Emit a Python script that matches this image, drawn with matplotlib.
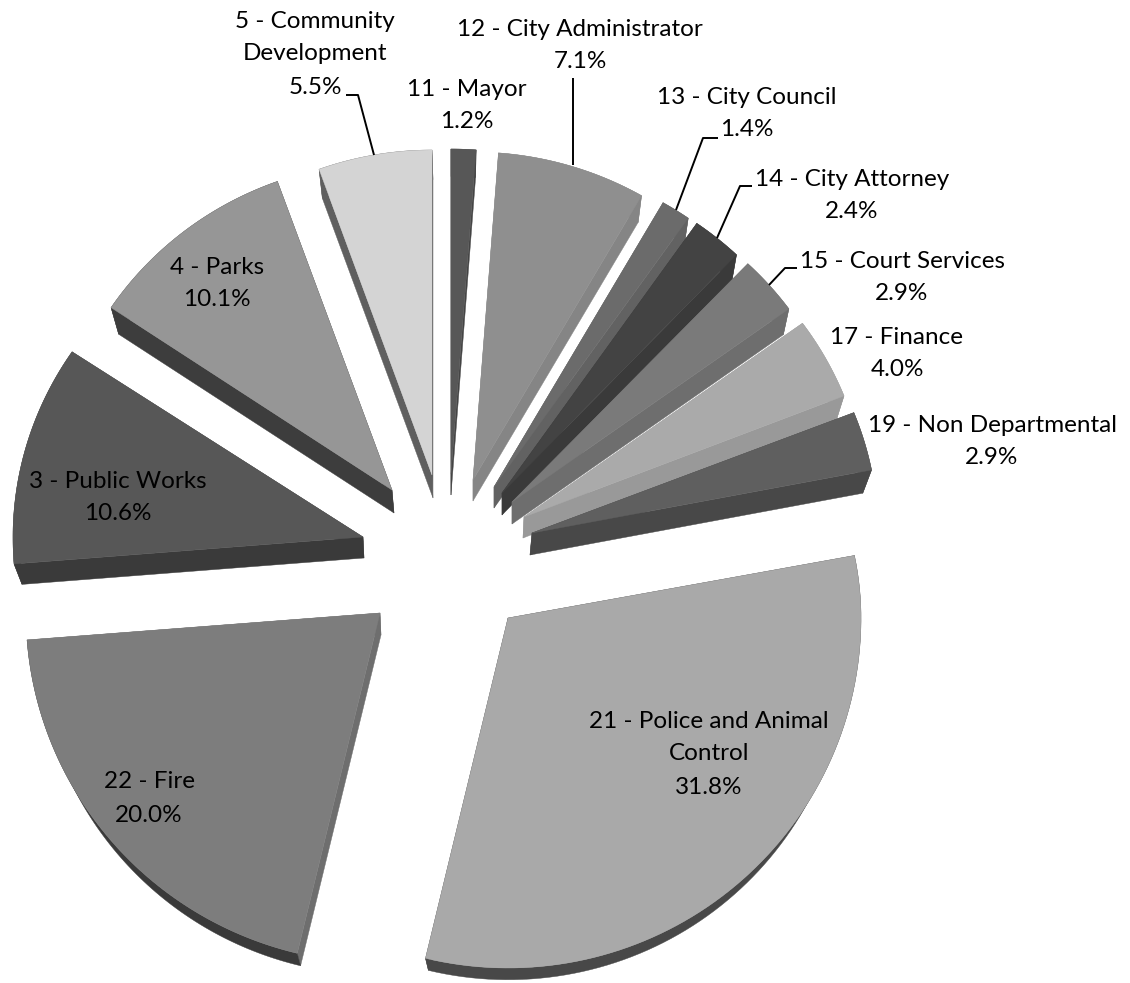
import numpy as np
import matplotlib
matplotlib.use("Agg")
import matplotlib.pyplot as plt
from matplotlib.patches import Polygon

# ---- data (clockwise from 12 o'clock) ----
departments = ["11 - Mayor", "12 - City Administrator", "13 - City Council",
               "14 - City Attorney", "15 - Court Services", "17 - Finance",
               "19 - Non Departmental", "21 - Police and Animal\nControl",
               "22 - Fire", "3 - Public Works", "4 - Parks",
               "5 - Community\nDevelopment"]
shares = [1.2, 7.1, 1.4, 2.4, 2.9, 4.0, 2.9, 31.8, 20.0, 10.6, 10.1, 5.5]

# ---- colours ----
face_colors = ["#575757", "#8f8f8f", "#6b6b6b", "#434343", "#7a7a7a", "#aaaaaa",
               "#5f5f5f", "#a9a9a9", "#7d7d7d", "#575757", "#969696", "#d4d4d4"]
wall_colors = ["#444444", "#858585", "#626262", "#3a3a3a", "#6e6e6e", "#999999",
               "#484848", "#484848", "#6e6e6e", "#3a3a3a", "#3d3d3d", "#5f5f5f"]
rim_colors = ["#444444", "#858585", "#626262", "#3a3a3a", "#6e6e6e", "#999999",
              "#484848", "#484848", "#3a3a3a", "#3a3a3a", "#3d3d3d", "#5f5f5f"]

# ---- exploded 3D layout, one entry per slice (canvas pixels) ----
apex_x = [451, 473, 494, 502, 512, 524, 532, 508, 380, 363, 392, 432]
apex_y = [474, 480, 487, 493, 502, 517, 533, 618, 613, 537, 490, 475]
radius_x = [333, 338, 339, 340, 342, 344, 346, 353, 354, 350, 338, 333]
radius_up = [325, 328, 328, 329, 329, 330, 328, 325, 328, 333, 328, 325]
radius_down = 350
depth_x = [0, 0, 0, 0, 0, -1, -2, 0, 1, 1, 2, 1]
depth_y = [21, 21, 21, 22, 22, 21, 22, 24, 22, 21, 23, 23]
depth_scale = [0.98, 0.98, 0.98, 0.98, 0.98, 0.98, 0.98, 0.965, 0.972, 0.98, 0.98, 0.98]

# ---- label layout: centre x, first line y ----
label_x = [467, 580, 747, 852, 902, 897, 992, 709, 149, 118, 217, 315]
label_y = [89, 29, 97, 179, 261, 337, 425, 721, 782, 481, 267, 21]
line_step = 33
font_size = 17.5

leaders = [
    [(346, 95), (358, 95), (374, 155)],
    [(573, 78), (573, 165)],
    [(718, 138), (703, 138), (676, 210)],
    [(752, 186), (740, 186), (717, 238)],
    [(797, 268), (785, 268), (769, 285)],
]

plt.rcParams["font.family"] = ["Lato", "DejaVu Sans"]
fig = plt.figure(figsize=(11.3, 9.83), dpi=100)
ax = fig.add_axes([0, 0, 1, 1])
ax.set_xlim(0, 1130)
ax.set_ylim(983, 0)
ax.axis("off")

edges = np.cumsum([0] + shares) / sum(shares) * 2 * np.pi


def arc(i, t0, t1, n=80):
    th = np.linspace(t0, t1, n)
    ry = np.where(np.cos(th) > 0, radius_up[i], radius_down)
    return radius_x[i] * np.sin(th), -ry * np.cos(th)


for i in range(len(shares)):
    ux, uy = arc(i, edges[i], edges[i + 1])
    ox, oy = apex_x[i], apex_y[i]
    top = np.column_stack([ox + ux, oy + uy])
    bot = np.column_stack([ox + depth_x[i] + depth_scale[i] * ux,
                           oy + depth_y[i] + depth_scale[i] * uy])
    a_t = np.array([ox, oy], float)
    a_b = np.array([ox + depth_x[i], oy + depth_y[i]], float)
    for edge_i in (0, -1):
        ax.add_patch(Polygon([a_t, top[edge_i], bot[edge_i], a_b],
                             closed=True, fc=wall_colors[i], ec=wall_colors[i], lw=0.3, zorder=2))
    ax.add_patch(Polygon(np.vstack([top, bot[::-1]]), closed=True,
                         fc=rim_colors[i], ec=rim_colors[i], lw=0.3, zorder=2))
    ax.add_patch(Polygon(np.vstack([a_t, top]), closed=True,
                         fc=face_colors[i], ec=face_colors[i], lw=0.3, zorder=3))

for pts in leaders:
    xs, ys = zip(*pts)
    ax.plot(xs, ys, color="black", lw=1.4, zorder=4, solid_capstyle="butt")

for name, v, x, y in zip(departments, shares, label_x, label_y):
    lines = name.split("\n") + [f"{v:.1f}%"]
    for k, line in enumerate(lines):
        ax.text(x, y + k * line_step, line, ha="center", va="center",
                fontsize=font_size, color="black", zorder=5)

fig.savefig("out.png", dpi=100, facecolor="white")
